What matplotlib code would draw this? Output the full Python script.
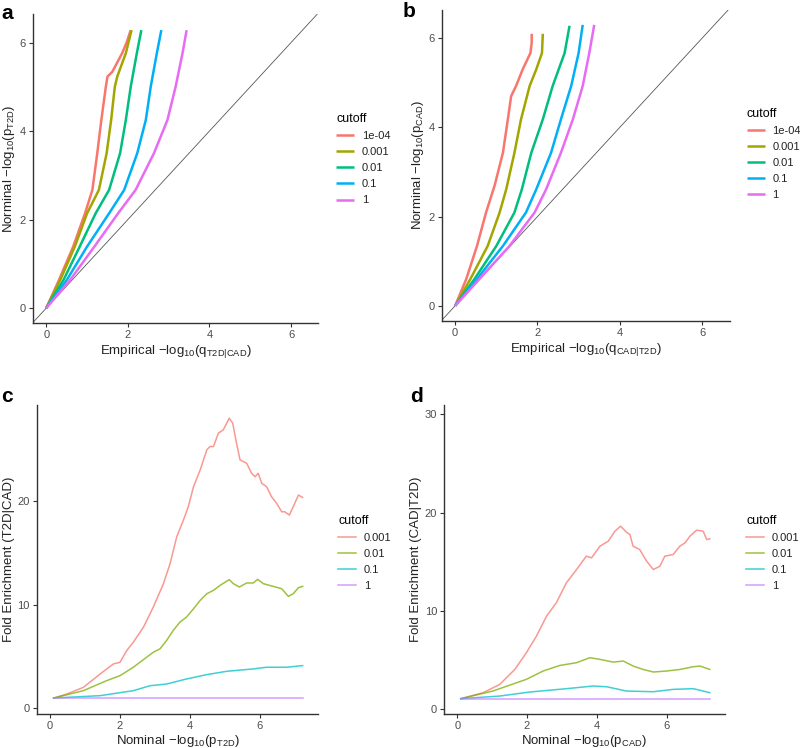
import numpy as np
import matplotlib.pyplot as plt

plt.rcParams["font.family"] = ["Liberation Sans", "DejaVu Sans"]
plt.rcParams["mathtext.fontset"] = "custom"
plt.rcParams["mathtext.rm"] = "Liberation Sans"
plt.rcParams["mathtext.it"] = "Liberation Sans"

### Panel a: conditional Q-Q, T2D given CAD
a_labels = ["1e-04", "0.001", "0.01", "0.1", "1"]
a_x_1e4 = [0, 0.31, 0.66, 0.95, 1.13, 1.25, 1.35, 1.46, 1.50, 1.62, 1.86, 1.97, 2.07]
a_y_1e4 = [0, 0.63, 1.39, 2.14, 2.67, 3.50, 4.25, 5.00, 5.23, 5.34, 5.76, 6.00, 6.28]
a_x_001 = [0, 0.34, 0.70, 1.00, 1.29, 1.48, 1.59, 1.68, 1.74, 1.95, 2.09]
a_y_001 = [0, 0.63, 1.39, 2.14, 2.67, 3.50, 4.25, 5.00, 5.23, 5.76, 6.28]
a_x_01 = [0, 0.42, 0.82, 1.21, 1.54, 1.81, 1.95, 2.07, 2.22, 2.33]
a_y_01 = [0, 0.63, 1.39, 2.14, 2.67, 3.50, 4.25, 5.00, 5.76, 6.28]
a_x_1 = [0, 0.50, 1.00, 1.54, 1.91, 2.23, 2.44, 2.56, 2.71, 2.82]
a_y_1 = [0, 0.63, 1.39, 2.14, 2.67, 3.50, 4.25, 5.00, 5.76, 6.28]
a_x_one = [0, 0.58, 1.18, 1.76, 2.19, 2.64, 2.97, 3.17, 3.34, 3.44]
a_y_one = [0, 0.63, 1.39, 2.14, 2.67, 3.50, 4.25, 5.00, 5.76, 6.28]

### Panel b: conditional Q-Q, CAD given T2D
b_x_1e4 = [0, 0.27, 0.53, 0.75, 0.96, 1.16, 1.28, 1.36, 1.48, 1.64, 1.83, 1.86, 1.86]
b_y_1e4 = [0, 0.60, 1.34, 2.09, 2.70, 3.43, 4.18, 4.70, 4.93, 5.30, 5.67, 5.90, 6.10]
b_x_001 = [0, 0.37, 0.79, 1.08, 1.24, 1.44, 1.60, 1.81, 1.97, 2.11, 2.13]
b_y_001 = [0, 0.60, 1.34, 2.09, 2.61, 3.43, 4.18, 4.93, 5.30, 5.67, 6.10]
b_x_01 = [0, 0.47, 1.00, 1.44, 1.62, 1.85, 2.13, 2.37, 2.66, 2.78]
b_y_01 = [0, 0.60, 1.34, 2.09, 2.61, 3.43, 4.18, 4.93, 5.67, 6.28]
b_x_1 = [0, 0.53, 1.16, 1.72, 1.97, 2.33, 2.57, 2.82, 3.00, 3.10]
b_y_1 = [0, 0.60, 1.34, 2.09, 2.61, 3.43, 4.18, 4.93, 5.67, 6.30]
b_x_one = [0, 0.59, 1.32, 1.93, 2.21, 2.57, 2.86, 3.10, 3.26, 3.38]
b_y_one = [0, 0.60, 1.34, 2.09, 2.61, 3.43, 4.18, 4.93, 5.67, 6.30]

### Panel c: fold enrichment T2D|CAD
cd_labels = ["0.001", "0.01", "0.1", "1"]
c_x_001 = [0.1, 0.48, 0.95, 1.43, 1.81, 2.0, 2.19, 2.38, 2.67, 2.95, 3.24, 3.43, 3.62, 3.81,
           3.95, 4.10, 4.29, 4.48, 4.57, 4.67, 4.81, 4.95, 5.05, 5.12, 5.22, 5.33, 5.43, 5.62,
           5.76, 5.86, 5.95, 6.05, 6.19, 6.33, 6.48, 6.62, 6.71, 6.84, 6.95, 7.10, 7.22]
c_y_001 = [1.0, 1.39, 2.03, 3.32, 4.29, 4.45, 5.58, 6.39, 7.84, 9.77, 12.03, 13.97, 16.55, 18.16,
           19.45, 21.39, 23.0, 24.94, 25.26, 25.26, 26.55, 26.87, 27.52, 28.0, 27.52, 25.58, 23.97,
           23.65, 22.68, 22.35, 22.68, 21.71, 21.39, 20.42, 19.77, 18.97, 18.97, 18.65, 19.45,
           20.58, 20.35]
c_x_01 = [0.1, 0.95, 1.62, 2.0, 2.38, 2.76, 2.95, 3.14, 3.33, 3.52, 3.71, 3.90, 4.10, 4.29, 4.48,
          4.67, 4.86, 5.12, 5.24, 5.41, 5.62, 5.81, 5.93, 6.10, 6.38, 6.62, 6.81, 6.95, 7.10, 7.22]
c_y_01 = [1.0, 1.71, 2.68, 3.16, 3.97, 4.94, 5.42, 5.74, 6.55, 7.52, 8.32, 8.81, 9.61, 10.42, 11.06,
          11.39, 11.87, 12.42, 12.03, 11.71, 12.10, 12.10, 12.45, 12.03, 11.77, 11.55, 10.81, 11.06,
          11.65, 11.77]
c_x_1 = [0.1, 1.43, 2.38, 2.86, 3.33, 3.90, 4.48, 5.05, 5.81, 6.19, 6.76, 7.22]
c_y_1 = [1.0, 1.23, 1.71, 2.19, 2.35, 2.84, 3.26, 3.58, 3.81, 3.97, 3.97, 4.13]
c_x_one = [0.1, 7.22]
c_y_one = [1.0, 1.0]

### Panel d: fold enrichment CAD|T2D
d_x_001 = [0.1, 0.74, 1.22, 1.41, 1.65, 1.98, 2.27, 2.56, 2.84, 3.13, 3.42, 3.70, 3.85, 4.09, 4.33,
           4.52, 4.68, 4.85, 4.95, 5.04, 5.23, 5.43, 5.62, 5.81, 5.95, 6.19, 6.38, 6.53, 6.67, 6.86,
           7.05, 7.15, 7.24]
d_y_001 = [1.02, 1.63, 2.48, 3.16, 4.0, 5.7, 7.4, 9.44, 10.8, 12.84, 14.19, 15.55, 15.38, 16.57,
           17.08, 18.1, 18.61, 18.0, 17.76, 16.57, 16.23, 15.04, 14.19, 14.53, 15.55, 15.72, 16.57,
           16.91, 17.59, 18.2, 18.1, 17.25, 17.32]
d_x_01 = [0.1, 1.02, 1.98, 2.46, 2.94, 3.42, 3.80, 4.09, 4.47, 4.76, 5.04, 5.33, 5.62, 6.0, 6.38,
          6.77, 6.96, 7.24]
d_y_01 = [1.02, 1.8, 2.99, 3.84, 4.41, 4.69, 5.2, 5.03, 4.75, 4.86, 4.35, 4.0, 3.74, 3.84, 4.0,
          4.28, 4.35, 4.0]
d_x_1 = [0.1, 1.22, 2.08, 3.13, 3.89, 4.28, 4.85, 5.62, 6.19, 6.77, 7.24]
d_y_1 = [1.02, 1.29, 1.7, 2.04, 2.31, 2.24, 1.8, 1.73, 1.97, 2.04, 1.63]
d_x_one = [0.1, 7.24]
d_y_one = [1.0, 1.0]

qq_colors = ["#F8766D", "#A3A500", "#00BF7D", "#00B0F6", "#E76BF3"]
fe_colors = ["#F8766D", "#7CAE00", "#00BFC4", "#C77CFF"]
tick_col = "#4D4D4D"


def style_axes(ax):
    for s in ["top", "right"]:
        ax.spines[s].set_visible(False)
    for s in ["left", "bottom"]:
        ax.spines[s].set_color("#333333")
        ax.spines[s].set_linewidth(1.0)
    ax.tick_params(axis="both", colors="#333333", labelcolor=tick_col,
                   labelsize=8, length=3, width=0.8, pad=2)


def add_legend(ax, handles, labels, x, y):
    leg = ax.legend(handles, labels, title="cutoff", loc="upper left",
                    bbox_to_anchor=(x, y), bbox_transform=fig.transFigure,
                    frameon=False, fontsize=8, title_fontsize=9,
                    handlelength=1.6, handletextpad=0.7, labelspacing=0.55,
                    borderaxespad=0)
    leg._legend_box.align = "left"
    for t in leg.get_texts():
        t.set_color("#222222")


fig = plt.figure(figsize=(8, 7.48), dpi=100)

ax_a = fig.add_axes([0.041, 0.568, 0.357, 0.413])
ax_b = fig.add_axes([0.552, 0.571, 0.360, 0.416])
ax_c = fig.add_axes([0.046, 0.046, 0.352, 0.413])
ax_d = fig.add_axes([0.555, 0.046, 0.351, 0.413])

### QQ panels
for ax, xs, ys, sub_y, sub_x in [
    (ax_a, [a_x_1e4, a_x_001, a_x_01, a_x_1, a_x_one],
     [a_y_1e4, a_y_001, a_y_01, a_y_1, a_y_one], "T2D", "T2D|CAD"),
    (ax_b, [b_x_1e4, b_x_001, b_x_01, b_x_1, b_x_one],
     [b_y_1e4, b_y_001, b_y_01, b_y_1, b_y_one], "CAD", "CAD|T2D"),
]:
    ax.axline((0, 0), slope=1, color="#555555", lw=0.6)
    handles = []
    for x, y, c in zip(xs, ys, qq_colors):
        (h,) = ax.plot(x, y, color=c, lw=1.8, solid_capstyle="butt")
        handles.append(h)
    ax.set_xlim(-0.33, 6.67)
    ax.set_ylim(-0.34, 6.64)
    ax.set_xticks([0, 2, 4, 6])
    ax.set_yticks([0, 2, 4, 6])
    ax.set_xlabel(r"Empirical $-$log$_{10}$(q$_{\mathrm{" + sub_x + "}}$)",
                  fontsize=9.5, color="#222222", labelpad=2)
    ax.set_ylabel(r"Norminal $-$log$_{10}$(p$_{\mathrm{" + sub_y + "}}$)",
                  fontsize=9.5, color="#222222", labelpad=2)
    style_axes(ax)
    if ax is ax_a:
        add_legend(ax, handles, a_labels, 0.415, 0.855)
    else:
        add_legend(ax, handles, a_labels, 0.928, 0.862)

### Fold enrichment panels
for ax, xs, ys, sub, ylab, top in [
    (ax_c, [c_x_001, c_x_01, c_x_1, c_x_one], [c_y_001, c_y_01, c_y_1, c_y_one],
     "T2D", "Fold Enrichment (T2D|CAD)", 29.3),
    (ax_d, [d_x_001, d_x_01, d_x_1, d_x_one], [d_y_001, d_y_01, d_y_1, d_y_one],
     "CAD", "Fold Enrichment (CAD|T2D)", 31.0),
]:
    handles = []
    for x, y, c in zip(xs, ys, fe_colors):
        (h,) = ax.plot(x, y, color=c, lw=1.1, alpha=0.75)
        handles.append(h)
    ax.set_xlim(-0.38, 7.67)
    ax.set_ylim(-0.5, top)
    ax.set_xticks([0, 2, 4, 6])
    if ax is ax_d:
        ax.set_yticks([0, 10, 20, 30])
    else:
        ax.set_yticks([0, 10, 20])
    ax.set_xlabel(r"Nominal $-$log$_{10}$(p$_{\mathrm{" + sub + "}}$)",
                  fontsize=9.5, color="#222222", labelpad=2)
    ax.set_ylabel(ylab, fontsize=9.5, color="#222222", labelpad=2)
    style_axes(ax)
    if ax is ax_c:
        add_legend(ax, handles, cd_labels, 0.417, 0.318)
    else:
        add_legend(ax, handles, cd_labels, 0.927, 0.318)

### Panel letters
for lbl, x, y in [("a", 0.002, 0.995), ("b", 0.503, 0.997), ("c", 0.002, 0.482), ("d", 0.513, 0.482)]:
    fig.text(x, y, lbl, fontsize=15, fontweight="bold", va="top", ha="left")

plt.savefig("out.png", dpi=100)
